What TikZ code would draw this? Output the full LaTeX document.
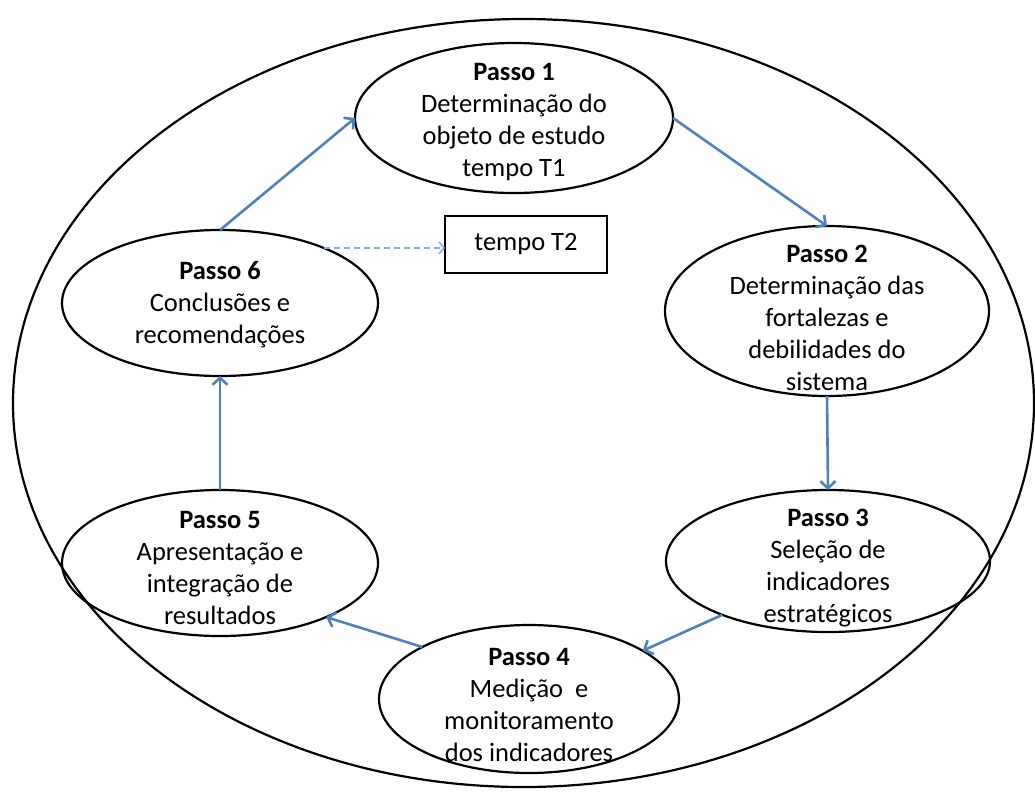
\documentclass[tikz,border=0pt]{standalone}
\usepackage{fontspec}
\setmainfont{Carlito}
\usetikzlibrary{shapes.geometric,arrows.meta}
\definecolor{arrowblue}{HTML}{4F81BD}
\definecolor{dashblue}{HTML}{8AB0DE}
\begin{document}
\begin{tikzpicture}[x=1pt,y=-1pt,
  shell/.style={draw=black, line width=2.2pt, ellipse, inner sep=0pt, outer sep=0pt},
  steptext/.style={align=center, inner sep=0pt, font=\fontsize{26.5}{32}\selectfont, text=black},
  flow/.style={draw=arrowblue, line width=2.6pt, -{Straight Barb[length=7pt,width=15pt]}},
  dashflow/.style={draw=dashblue, line width=1.6pt, dash pattern=on 6pt off 4pt, -{Straight Barb[length=5pt,width=12pt]}},
  tbox/.style={draw=black, line width=2pt, inner sep=0pt, outer sep=0pt, minimum width=162pt, minimum height=57pt, font=\fontsize{26.5}{32}\selectfont, text=black}
]
\useasboundingbox (0,0) rectangle (1035,796);
\fill[white] (0,0) rectangle (1035,796);

\node[shell, minimum width=1021pt, minimum height=768pt] (outer) at (523.5,403) {};

\node[shell, minimum width=318pt, minimum height=150pt] (p1) at (514,118) {};
\node[steptext] (p1t) at (514,122) {\textbf{Passo 1}\\Determinação do\\objeto de estudo\\tempo T1};

\node[shell, minimum width=324pt, minimum height=170pt] (p2) at (827,311) {};
\node[steptext] (p2t) at (827,318) {\textbf{Passo 2}\\Determinação das\\fortalezas e\\debilidades do\\sistema};

\node[shell, minimum width=324pt, minimum height=142pt] (p3) at (828,561) {};
\node[steptext] (p3t) at (828,568) {\textbf{Passo 3}\\Seleção de\\indicadores\\estratégicos};

\node[shell, minimum width=300pt, minimum height=148pt] (p4) at (529,699) {};
\node[steptext] (p4t) at (529,705) {\textbf{Passo 4}\\Medição\ \ e\\monitoramento\\dos indicadores};

\node[shell, minimum width=316pt, minimum height=146pt] (p5) at (220,563) {};
\node[steptext] (p5t) at (220,568) {\textbf{Passo 5}\\Apresentação e\\integração de\\resultados};

\node[shell, minimum width=316pt, minimum height=146pt] (p6) at (220,303) {};
\node[steptext] (p6t) at (220,305) {\textbf{Passo 6}\\Conclusões e\\recomendações};

\node[tbox] (t2) at (526,244.5) {tempo T2};

\draw[flow] (p6.north) -- (p1.west);
\draw[flow] (p1.east) -- (p2.north);
\draw[flow] (p2.south) -- (p3.north);
\draw[flow] (p3.207) -- (p4.23);
\draw[flow] (p4.154) -- (p5.333);
\draw[flow] (p5.north) -- (p6.south);
\draw[dashflow] (p6.28) -- (p6.28 -| t2.west);
\end{tikzpicture}
\end{document}
